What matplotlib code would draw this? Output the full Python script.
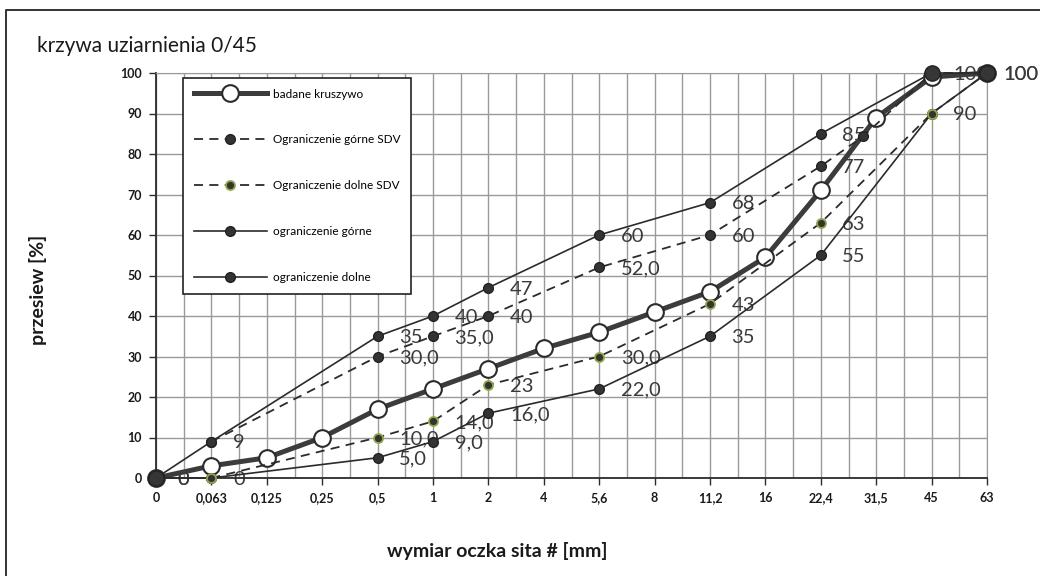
import numpy as np
import matplotlib.pyplot as plt
from matplotlib.lines import Line2D

# sieve sizes (category axis)
sieves = ["0", "0,063", "0,125", "0,25", "0,5", "1", "2", "4", "5,6",
          "8", "11,2", "16", "22,4", "31,5", "45", "63"]

# tested aggregate, one value per sieve
badane = [0, 3, 5, 10, 17, 22, 27, 32, 36, 41, 46, 54.5, 71, 89, 99, 100]

# limit curves: x = index on the sieve axis
gorne_x = [0, 1, 4, 5, 6, 8, 10, 12, 14, 15]
gorne_y = [0, 9, 35, 40, 47, 60, 68, 85, 100, 100]
gorne_lab = ["0", "9", "35", "40", "47", "60", "68", "85", "100", "100"]

dolne_x = [0, 1, 4, 5, 6, 8, 10, 12, 14, 15]
dolne_y = [0, 0, 5, 9, 16, 22, 35, 55, 90, 100]
dolne_lab = ["0", "0", "5,0", "9,0", "16,0", "22,0", "35", "55", "90", "100"]

sdv_gorne_x = [1, 4, 5, 6, 8, 10, 12, 12.77, 14, 15]
sdv_gorne_y = [9, 30, 35, 40, 52, 60, 77, 84.4, 100, 100]
sdv_gorne_lab = ["", "30,0", "35,0", "40", "52,0", "60", "77", "", "", ""]

sdv_dolne_x = [1, 4, 5, 6, 8, 10, 12, 14, 15]
sdv_dolne_y = [0, 10, 14, 23, 30, 43, 63, 90, 100]
sdv_dolne_lab = ["", "10,0", "14,0", "23", "30,0", "43", "63", "", ""]

plt.rcParams['font.family'] = ['Lato', 'DejaVu Sans']

W, H = 1040, 576
fig = plt.figure(figsize=(W / 100, H / 100), dpi=100)
ax = fig.add_axes([156 / W, 1 - 478 / H, (987 - 156) / W, (478 - 73) / H])

dark = '#2b2b2b'
grid_c = '#9a9a9a'

# grid
for v in np.arange(0, 15.01, 0.5):
    ax.axvline(v, color=grid_c, lw=1.0, zorder=0)
for v in range(0, 101, 10):
    ax.axhline(v, color=grid_c, lw=1.0, zorder=0)

x_bad = np.arange(len(sieves))
ax.plot(x_bad, badane, color='#3c3c3c', lw=3.6, marker='o', ms=12,
        mfc='white', mec='#2b2b2b', mew=1.5, zorder=3, clip_on=False)

ax.plot(gorne_x, gorne_y, color=dark, lw=1.2, marker='o', ms=7,
        mfc='#333333', mec='#222222', zorder=4, clip_on=False)
ax.plot(dolne_x, dolne_y, color=dark, lw=1.2, marker='o', ms=7,
        mfc='#333333', mec='#222222', zorder=4, clip_on=False)
ax.plot(sdv_gorne_x, sdv_gorne_y, color=dark, lw=1.3, ls=(0, (5, 3.5)),
        marker='o', ms=7, mfc='#333333', mec='#222222', zorder=4, clip_on=False)
ax.plot(sdv_dolne_x, sdv_dolne_y, color=dark, lw=1.3, ls=(0, (5, 3.5)),
        marker='o', ms=6.5, mfc='#333333', mec='#8fa84a', mew=1.3, zorder=4,
        clip_on=False)

# endpoints look heavier in the original (stacked markers)
ax.plot([0, 14, 15], [0, 100, 100], ls='none', marker='o', ms=11,
        mfc='#363636', mec='#222222', zorder=5, clip_on=False)

# data labels
last = len(sieves) - 1
for xs, ys, labs in [(gorne_x, gorne_y, gorne_lab),
                     (dolne_x, dolne_y, dolne_lab),
                     (sdv_gorne_x, sdv_gorne_y, sdv_gorne_lab),
                     (sdv_dolne_x, sdv_dolne_y, sdv_dolne_lab)]:
    for xv, yv, t in zip(xs, ys, labs):
        if t:
            dx = 12 if xv == last else 15.5
            ax.annotate(t, (xv, yv), xytext=(dx, -1), textcoords='offset points',
                        ha='left', va='center', fontsize=14.5, color='#3a3a3a',
                        annotation_clip=False, zorder=2)

ax.set_xlim(0, 15)
ax.set_ylim(0, 100)
ax.set_xticks(x_bad)
ax.set_xticklabels(sieves)
ax.set_yticks(range(0, 101, 10))
ax.tick_params(axis='both', direction='out', length=5, width=1, color=dark,
               labelsize=9, pad=5)
for lab in ax.get_xticklabels() + ax.get_yticklabels():
    lab.set_fontweight('bold')
    lab.set_color('#1a1a1a')
ax.spines['left'].set_color(dark)
ax.spines['bottom'].set_color(dark)
ax.spines['left'].set_linewidth(1.3)
ax.spines['bottom'].set_linewidth(1.3)
ax.spines['top'].set_color(grid_c)
ax.spines['right'].set_color(grid_c)

# legend
handles = [
    Line2D([], [], color='#3c3c3c', lw=3.6, marker='o', ms=12, mfc='white',
           mec='#2b2b2b', mew=1.5),
    Line2D([], [], color=dark, lw=1.3, ls=(0, (5, 3.5)), marker='o', ms=7,
           mfc='#333333', mec='#222222'),
    Line2D([], [], color=dark, lw=1.3, ls=(0, (5, 3.5)), marker='o', ms=6.5,
           mfc='#333333', mec='#8fa84a', mew=1.3),
    Line2D([], [], color=dark, lw=1.2, marker='o', ms=7, mfc='#333333', mec='#222222'),
    Line2D([], [], color=dark, lw=1.2, marker='o', ms=7, mfc='#333333', mec='#222222'),
]
names = ["badane kruszywo", "Ograniczenie górne SDV", "Ograniczenie dolne SDV",
         "ograniczenie górne", "ograniczenie dolne"]
leg = fig.legend(handles, names, loc='upper left',
                 bbox_to_anchor=(183 / W, 1 - 78 / H), borderaxespad=0,
                 fancybox=False, framealpha=1, edgecolor='#222222',
                 handlelength=6.2, handletextpad=0.5, labelspacing=2.95,
                 borderpad=0.9, prop={'size': 8.5})
leg.get_frame().set_linewidth(1.2)
leg.set_zorder(10)

fig.text(37 / W, 1 - 46 / H, "krzywa uziarnienia 0/45", fontsize=15,
         ha='left', va='center', color='#1a1a1a')
fig.text(38 / W, 1 - 290 / H, "przesiew [%]", fontsize=14, fontweight='bold',
         rotation=90, ha='center', va='center', color='#1a1a1a')
fig.text(497 / W, 1 - 551 / H, "wymiar oczka sita # [mm]", fontsize=14,
         fontweight='bold', ha='center', va='center', color='#1a1a1a')

# outer chart frame (only top and left edges are inside the picture)
fig.add_artist(Line2D([6 / W, 6 / W, 1.0], [0.0, 1 - 10 / H, 1 - 10 / H],
                      transform=fig.transFigure, lw=1.4, color='#333333'))

fig.savefig("out.png", dpi=100)
